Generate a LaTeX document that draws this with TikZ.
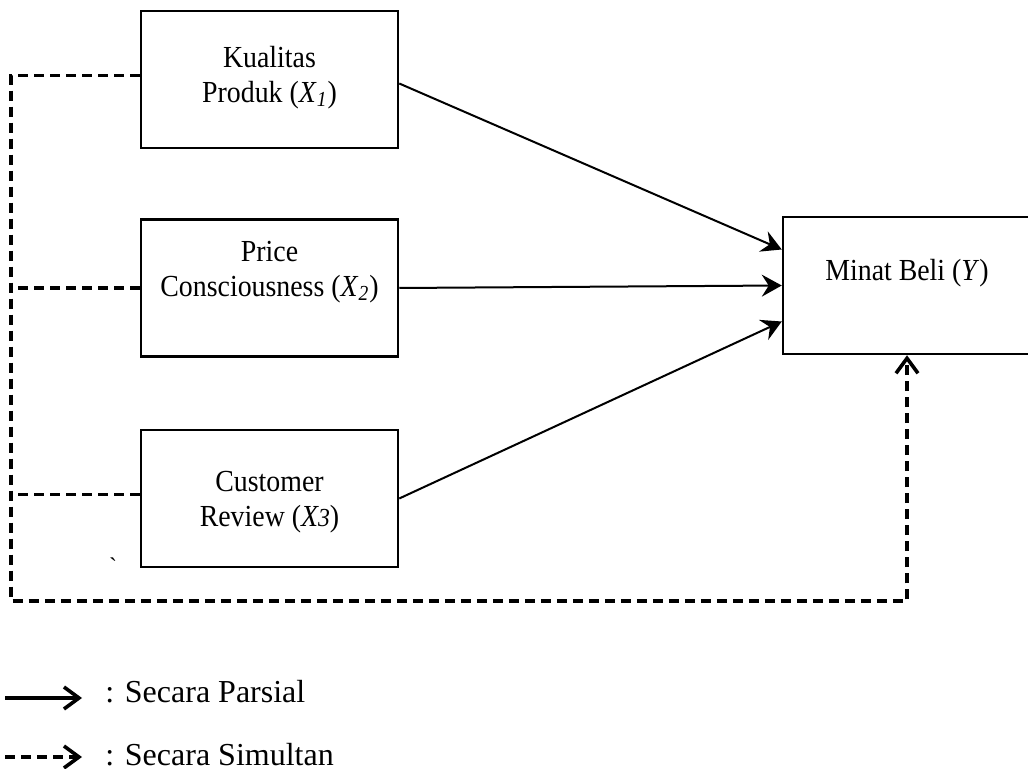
\documentclass[tikz,border=0pt]{standalone}
\usepackage{fontspec}
\setmainfont{Liberation Serif}
\newfontfamily\boxfont[FakeStretch=0.91]{Liberation Serif}
\usetikzlibrary{positioning}
\usetikzlibrary{arrows.meta}
\tikzset{
    varbox/.style = {rectangle, draw=black, line width=1.25pt, minimum width=128.5pt, minimum height=68.5pt},
    boxtext/.style = {align=center, inner sep=0pt, font=\boxfont\fontsize{15.3}{17.5}\selectfont},
    parsial/.style = {line width=1pt, -{Stealth[length=10pt,width=11pt,inset=3.5pt]}},
    simultan/.style = {line width=1.7pt, dash pattern=on 5pt off 3pt},
    barb/.style = {-{Straight Barb[length=7.5pt,width=11pt,line width=1.8pt]}},
    legendtext/.style = {inner sep=0pt, font=\fontsize{16}{18}\selectfont},
}
\begin{document}
\begin{tikzpicture}[x=0.5pt, y=-0.5pt]
  \useasboundingbox (0,0) rectangle (1028,769);
  % variabel bebas
  \node[varbox] (kp) at (269.5,79.5) {};
  \node[varbox, below=34.5pt of kp] (pc) {};
  \node[varbox, below=35.5pt of pc] (cr) {};
  \node[boxtext, yshift=1pt] (kptext) at (kp) {Kualitas\\Produk (\textit{X}\textsubscript{\textit{1}})};
  \node[boxtext, yshift=8pt] (pctext) at (pc) {Price\\Consciousness (\textit{X}\textsubscript{\textit{2}})};
  \node[boxtext, yshift=-2pt] (crtext) at (cr) {Customer\\Review (\textit{X{\fontsize{13}{15}\selectfont 3}})};
  % variabel terikat
  \node[varbox, minimum width=124pt] (mb) at (907,285.5) {};
  \node[boxtext, yshift=6pt] (mbtext) at (mb) {Minat Beli (\textit{Y})};
  \node[font=\fontsize{12}{14}\selectfont, inner sep=0pt] (tick) at (113,566) {\textasciigrave};
  % parsial
  \draw[parsial] ([yshift=-2pt]kp.east) -- ([yshift=18pt]mb.west);
  \draw[parsial] (pc.east) -- (mb.west);
  \draw[parsial] (cr.east) -- ([yshift=-18pt]mb.west);
  % simultan
  \coordinate (corner) at (11,601);
  \draw[simultan, barb] ([yshift=2pt]kp.west) -| (corner) -| (mb.south);
  \draw[simultan] (pc.west) -- (pc.west -| corner);
  \draw[simultan] ([yshift=2pt]cr.west) -- ([yshift=2pt]cr.west -| corner);
  % keterangan
  \coordinate (pa) at (5,698);
  \coordinate (pb) at (82,698);
  \coordinate (sa) at (5,757);
  \coordinate (sb) at (82,757);
  \draw[line width=1.8pt, barb] (pa) -- (pb);
  \draw[simultan, barb] (sa) -- (sb);
  \node[legendtext, anchor=base west] (lp) at (105,703) {: Secara Parsial};
  \node[legendtext, anchor=base west] (ls) at (105,765) {: Secara Simultan};
\end{tikzpicture}
\end{document}
